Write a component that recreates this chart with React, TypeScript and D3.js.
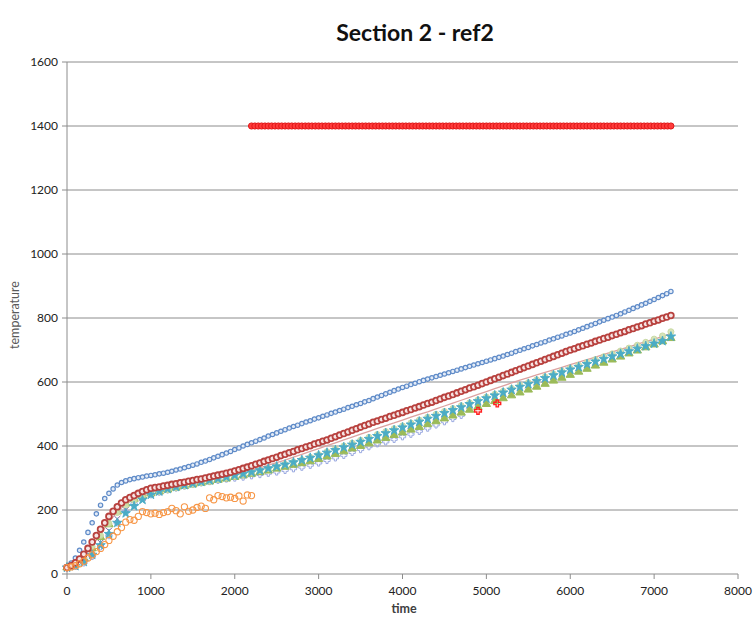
import React from "react";
import * as d3 from "d3";

const W = 755;
const H = 619;
const titleText = "Section 2 - ref2";
const xTicks = [0, 1000, 2000, 3000, 4000, 5000, 6000, 7000, 8000];
const yTicks = [0, 200, 400, 600, 800, 1000, 1200, 1400, 1600];

// sample times (s)
const timesFine = d3.range(0, 7201, 50);
const times = d3.range(0, 7201, 100);

const tcBlue = [
  20, 34, 50, 74, 100, 130, 160, 188, 215, 236, 252, 266, 278, 286, 291, 295, 298, 301, 303, 306,
  308, 310, 313, 315, 318, 321, 325, 328, 332, 336, 340, 344, 349, 353, 358, 363, 368, 373, 378, 383,
  389, 394, 400, 405, 410, 415, 420, 425, 431, 436, 441, 446, 451, 456, 461, 465, 470, 475, 479, 484,
  488, 493, 497, 502, 506, 511, 515, 520, 524, 529, 533, 538, 542, 548, 553, 558, 563, 568, 573, 578,
  583, 587, 592, 596, 601, 605, 609, 613, 617, 621, 625, 629, 633, 637, 641, 645, 649, 653, 657, 661,
  665, 669, 673, 677, 681, 686, 690, 695, 699, 704, 708, 713, 717, 722, 726, 731, 735, 740, 744, 749,
  753, 758, 763, 768, 773, 778, 783, 788, 793, 798, 803, 808, 813, 819, 824, 830, 835, 841, 846, 852,
  858, 864, 870, 876, 883,
];
const tcRed = [
  20, 26, 35, 47, 62, 80, 100, 120, 140, 160, 180, 196, 210, 222, 232, 239, 245, 252, 258, 263,
  268, 270, 272, 275, 277, 280, 282, 285, 287, 290, 292, 295, 297, 300, 303, 306, 309, 312, 315, 318,
  322, 326, 330, 334, 338, 343, 347, 352, 356, 361, 365, 370, 374, 379, 383, 388, 392, 397, 401, 406,
  410, 415, 419, 424, 429, 434, 439, 444, 449, 454, 459, 464, 469, 474, 478, 483, 487, 492, 496, 501,
  505, 510, 514, 519, 523, 528, 533, 537, 542, 547, 552, 556, 561, 566, 571, 576, 581, 585, 590, 595,
  600, 605, 610, 615, 620, 625, 630, 635, 640, 645, 650, 655, 660, 665, 670, 675, 680, 685, 690, 695,
  700, 704, 709, 713, 718, 722, 727, 731, 736, 740, 745, 749, 754, 758, 763, 767, 772, 776, 781, 785,
  790, 794, 799, 803, 808,
];
const tcGreen = [
  20, 30, 50, 80, 115, 155, 195, 220, 235, 245,
  252, 258, 264, 270, 275, 280, 285, 289, 294, 298,
  303, 308, 313, 318, 323, 329, 335, 341, 346, 352,
  359, 367, 375, 383, 392, 400, 408, 417, 425, 434,
  442, 451, 459, 468, 477, 486, 495, 504, 513, 522,
  531, 540, 549, 558, 567, 576, 585, 594, 604, 613,
  622, 632, 641, 651, 660, 670, 679, 689, 698, 708,
  717, 727, 737,
];
const tcPurple = [
  20, 28, 42, 65, 98, 135, 172, 200, 222, 238,
  250, 258, 265, 271, 277, 282, 287, 292, 297, 301,
  306, 311, 316, 321, 327, 333, 339, 346, 353, 360,
  368, 376, 384, 392, 401, 409, 418, 427, 436, 445,
  454, 463, 472, 481, 490, 499, 508, 517, 527, 536,
  545, 554, 563, 572, 581, 590, 599, 608, 617, 626,
  635, 644, 653, 661, 670, 678, 687, 695, 704, 712,
  721, 729, 738,
];
const tcAqua = [
  20, 25, 38, 60, 90, 125, 160, 190, 212, 232,
  248, 258, 266, 272, 278, 283, 288, 293, 298, 303,
  308, 313, 318, 324, 330, 336, 342, 349, 356, 363,
  371, 379, 387, 396, 404, 413, 422, 431, 440, 449,
  458, 467, 476, 485, 494, 503, 512, 521, 531, 540,
  549, 558, 567, 576, 585, 594, 603, 612, 621, 630,
  639, 647, 656, 664, 672, 680, 688, 696, 704, 712,
  720, 728, 742,
];
const tcPink = [
  20, 32, 55, 88, 125, 162, 195, 218, 234, 246,
  256, 263, 270, 276, 282, 287, 292, 297, 302, 307,
  313, 319, 325, 332, 340, 348, 356, 365, 374, 383,
  392, 401, 410, 419, 428, 437, 446, 455, 464, 472,
  481, 490, 499, 507, 516, 525, 534, 543, 552, 561,
  570, 579, 588, 597, 606, 614, 622, 630, 638, 646,
  654, 662, 670, 678, 686, 694, 702, 710, 718, 726,
  734, 742, 752,
];
const tcLightGreen = [
  20, 30, 52, 85, 120, 158, 192, 215, 230, 241,
  250, 257, 263, 269, 275, 280, 285, 290, 295, 300,
  305, 311, 317, 323, 329, 336, 343, 350, 357, 365,
  373, 382, 391, 400, 409, 418, 427, 436, 445, 454,
  463, 472, 481, 490, 499, 508, 517, 526, 535, 544,
  553, 562, 571, 580, 589, 598, 607, 616, 625, 634,
  643, 652, 661, 670, 679, 688, 697, 706, 715, 724,
  734, 744, 757,
];
// periwinkle series stops at 4700 s
const tcPeriwinkle = [
  20, 24, 35, 55, 85, 120, 160, 195, 220, 237,
  248, 256, 263, 269, 275, 280, 285, 289, 293, 297,
  300, 303, 307, 311, 315, 319, 324, 329, 334, 340,
  347, 355, 363, 371, 380, 389, 398, 407, 413, 421,
  429, 437, 446, 456, 466, 476, 486, 496,
];

// orange series: 0..2200 s every 50 s
const orangeTimes = d3.range(0, 2201, 50);
const tcOrange = [
  20, 22, 26, 32, 40, 50, 60, 70, 80, 92,
  105, 118, 132, 145, 162, 170, 168, 180, 195, 192,
  188, 190, 186, 192, 195, 205, 198, 188, 210, 196,
  200, 208, 212, 205, 238, 232, 245, 242, 238, 240,
  236, 244, 228, 247, 245,
];

// two stray "+" points
const crossTimes = [4900, 5130];
const crossValues = [510, 533];

// furnace set point line
const setpointTimes = d3.range(2200, 7201, 40);
const setpointValue = 1400;

const x = d3.scaleLinear().domain([0, 8000]).range([67, 738]);
const y = d3.scaleLinear().domain([0, 1600]).range([574, 62]);

type MarkerKind = "circle" | "diamond" | "triangle" | "x" | "plus" | "star" | "line";

interface SeriesDef {
  t: number[];
  v: number[];
  kind: MarkerKind;
  size: number;
  stroke: string;
  fill: string;
  sw: number;
  op?: number;
}

const series: SeriesDef[] = [
  { t: timesFine, v: tcBlue, kind: "circle", size: 15, stroke: "#5f8bc8", fill: "#e4ecf7", sw: 1.2 },
  { t: times, v: tcPeriwinkle, kind: "plus", size: 22, stroke: "#9aa9e0", fill: "none", sw: 1 },
  { t: times, v: tcPink, kind: "line", size: 0, stroke: "#dca2a0", fill: "none", sw: 1.3 },
  { t: times, v: tcPurple, kind: "x", size: 26, stroke: "#8064a2", fill: "none", sw: 1 },
  { t: times, v: tcGreen, kind: "triangle", size: 30, stroke: "#9bbb59", fill: "#9bbb59", sw: 1 },
  { t: times, v: tcLightGreen, kind: "circle", size: 28, stroke: "#c4d79b", fill: "#d3e2b3", sw: 1, op: 0.9 },
  { t: times, v: tcAqua, kind: "star", size: 28, stroke: "#4bacc6", fill: "#4bacc6", sw: 0.9 },
  { t: timesFine, v: tcRed, kind: "circle", size: 26, stroke: "#b8413e", fill: "#f6e4e4", sw: 1.8 },
  { t: orangeTimes, v: tcOrange, kind: "circle", size: 30, stroke: "#f79646", fill: "none", sw: 1.1 },
  { t: crossTimes, v: crossValues, kind: "plus", size: 26, stroke: "#ff2020", fill: "none", sw: 1.4 },
];

const symbolFor = (kind: MarkerKind) => {
  switch (kind) {
    case "diamond":
      return d3.symbolDiamond;
    case "triangle":
      return d3.symbolTriangle;
    case "x":
      return d3.symbolTimes;
    case "plus":
      return d3.symbolCross2 ?? d3.symbolCross;
    case "star":
      return d3.symbolStar;
    default:
      return d3.symbolCircle;
  }
};

const lineGen = d3
  .line<[number, number]>()
  .x((d) => x(d[0]))
  .y((d) => y(d[1]));

function Series({ s }: { s: SeriesDef }) {
  if (s.kind === "line") {
    const pts: [number, number][] = s.v.map((v, i) => [s.t[i], v]);
    return <path d={lineGen(pts) ?? ""} fill="none" stroke={s.stroke} strokeWidth={s.sw} />;
  }
  const path = d3.symbol().type(symbolFor(s.kind)).size(s.size)() ?? "";
  return (
    <g opacity={s.op ?? 1}>
      {s.v.map((v, i) => (
        <path
          key={i}
          d={path}
          transform={`translate(${x(s.t[i])},${y(v)})`}
          fill={s.fill}
          stroke={s.stroke}
          strokeWidth={s.sw}
        />
      ))}
    </g>
  );
}

export default function App() {
  const font = "Lato, 'Open Sans', sans-serif";
  const setpointPath = d3.symbol().type(d3.symbolCircle).size(30)() ?? "";
  return (
    <svg
      width={W}
      height={H}
      style={{ position: "absolute", left: 0, top: 0, background: "#fff" }}
      fontFamily={font}
    >
      <rect x={0} y={0} width={W} height={H} fill="#fff" />
      <text x={415} y={41} textAnchor="middle" fontSize={23} fontWeight="bold" fill="#111">
        {titleText}
      </text>

      {yTicks.map((t) => (
        <line key={t} x1={x(0)} x2={x(8000)} y1={y(t)} y2={y(t)} stroke="#8c8c8c" strokeWidth={1} />
      ))}
      <line x1={x(0)} x2={x(0)} y1={y(0)} y2={y(1600)} stroke="#8c8c8c" strokeWidth={1} />
      {yTicks.map((t) => (
        <g key={t}>
          <line x1={x(0) - 5} x2={x(0)} y1={y(t)} y2={y(t)} stroke="#8c8c8c" />
          <text x={x(0) - 9} y={y(t) + 4} textAnchor="end" fontSize={12} fill="#222">
            {t}
          </text>
        </g>
      ))}
      {xTicks.map((t) => (
        <g key={t}>
          <line x1={x(t)} x2={x(t)} y1={y(0)} y2={y(0) + 5} stroke="#8c8c8c" />
          <text x={x(t)} y={y(0) + 21} textAnchor="middle" fontSize={12} fill="#222">
            {t}
          </text>
        </g>
      ))}
      <text x={404} y={613} textAnchor="middle" fontSize={12.5} fontWeight="bold" fill="#404040">
        time
      </text>
      <text
        transform={`translate(19,315) rotate(-90)`}
        textAnchor="middle"
        fontSize={12.5}
        fill="#595959"
      >
        temperature
      </text>

      {series.map((s, i) => (
        <Series key={i} s={s} />
      ))}

      <g>
        {setpointTimes.map((t, i) => (
          <path
            key={i}
            d={setpointPath}
            transform={`translate(${x(t)},${y(setpointValue)})`}
            fill="#ff3b3b"
            stroke="#e01818"
            strokeWidth={1}
          />
        ))}
      </g>
    </svg>
  );
}
